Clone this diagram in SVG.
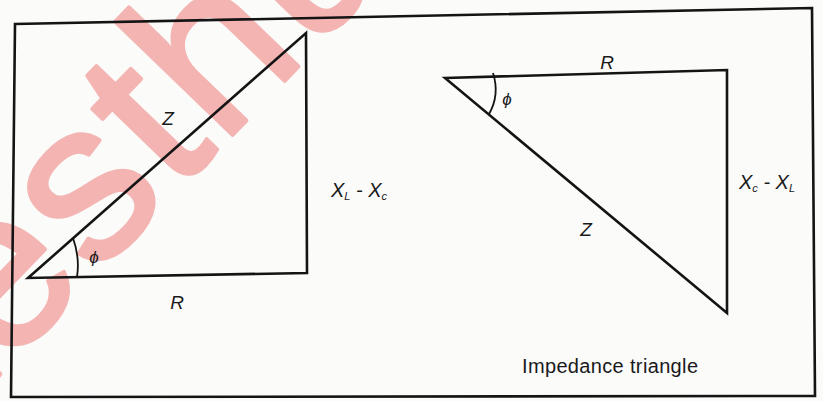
<svg xmlns="http://www.w3.org/2000/svg" width="823" height="401" viewBox="0 0 823 401">
<style>
.ln{fill:none;stroke:#141414;stroke-width:2.6;stroke-linejoin:miter;stroke-linecap:round}
.arc{fill:none;stroke:#141414;stroke-width:1.8}
.lb{font-family:"Liberation Sans",Arial,sans-serif;fill:#1a1a1a;font-style:italic}
.sub{font-size:11px}
.cap{font-family:"Liberation Sans",Arial,sans-serif;fill:#1a1a1a;font-size:20px}
.wm{font-family:"Liberation Sans",Arial,sans-serif;fill:#f3b4b2;stroke:#f3b4b2;stroke-width:4;stroke-linejoin:round}
</style>
<rect x="0" y="0" width="823" height="401" fill="#fbfbfa"/>
<g id="watermark">
<text class="wm" font-size="225" letter-spacing="4" transform="translate(240,127) rotate(-46)" x="-405" y="0">testhub</text>
</g>
<g id="frame">
<polygon class="ln" points="15,24 812,8 815,396 11,397"/>
</g>
<g id="left-triangle">
<polygon class="ln" points="28,278 306,33 307,273"/>
<path class="arc" d="M73,238 Q80,258 77,277"/>
<text class="lb" x="94" y="263" font-size="17" text-anchor="middle" font-style="normal">ϕ</text>
<text class="lb" x="168" y="125" font-size="19" text-anchor="middle">Z</text>
<text class="lb" x="177" y="309" font-size="19" text-anchor="middle">R</text>
<text class="lb" x="331" y="197" font-size="20">X<tspan class="sub" dy="3">L</tspan><tspan dy="-3"> - X</tspan><tspan class="sub" dy="3">c</tspan></text>
</g>
<g id="right-triangle">
<polygon class="ln" points="445,78 727,70 727,313"/>
<path class="arc" d="M493,73 Q500,95 489,114"/>
<text class="lb" x="507" y="105" font-size="17" text-anchor="middle" font-style="normal">ϕ</text>
<text class="lb" x="607" y="69" font-size="19" text-anchor="middle">R</text>
<text class="lb" x="586" y="236" font-size="19" text-anchor="middle">Z</text>
<text class="lb" x="739" y="189" font-size="20">X<tspan class="sub" dy="3">c</tspan><tspan dy="-3"> - X</tspan><tspan class="sub" dy="3">L</tspan></text>
</g>
<g id="caption">
<text class="cap" x="522" y="373" textLength="176">Impedance triangle</text>
</g>
</svg>
